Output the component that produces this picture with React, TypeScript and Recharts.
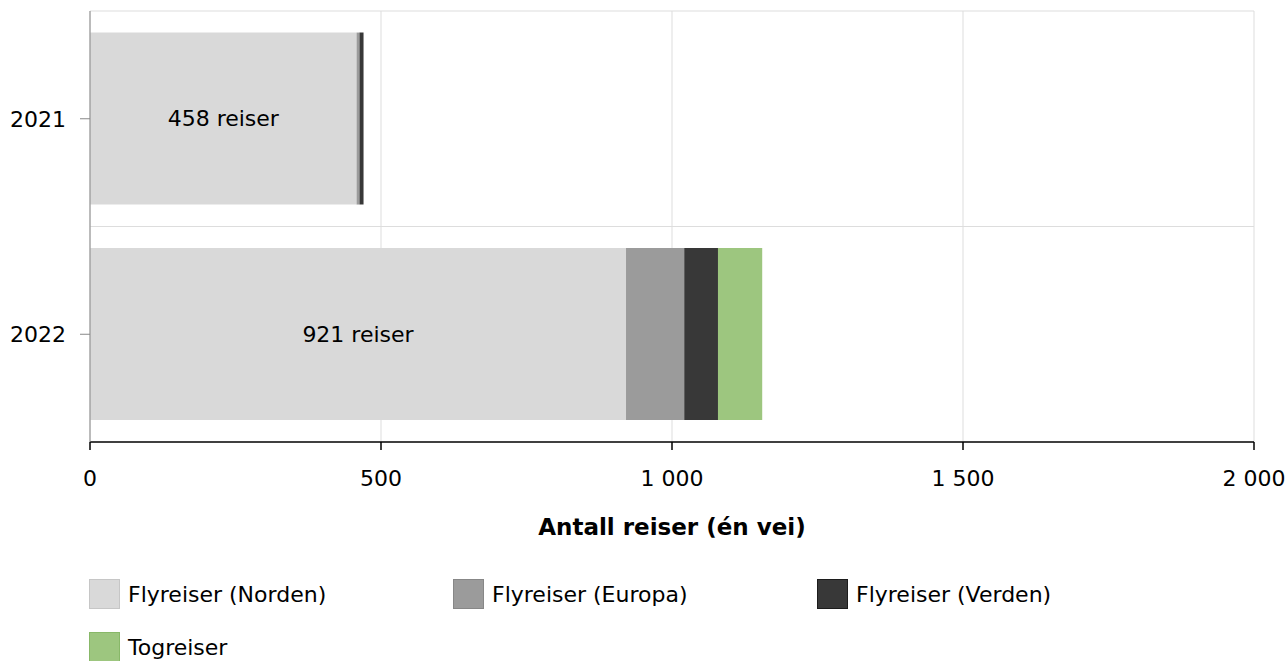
import React from "react";
import { BarChart, Bar, XAxis, YAxis, CartesianGrid, LabelList } from "recharts";

const YEARS = ["2021", "2022"];
const NORDEN = [458, 921];
const EUROPA = [5, 100];
const VERDEN = [7, 58];
const TOG = [0, 76];
const X_TICKS = [0, 500, 1000, 1500, 2000];

const SERIES = [
  { key: "norden", name: "Flyreiser (Norden)", color: "#d9d9d9", border: "#c6c6c6" },
  { key: "europa", name: "Flyreiser (Europa)", color: "#9b9b9b", border: "#878787" },
  { key: "verden", name: "Flyreiser (Verden)", color: "#383838", border: "#1c1c1c" },
  { key: "tog", name: "Togreiser", color: "#9dc67f", border: "#88b868" },
];

const data = YEARS.map((year, i) => ({
  year,
  norden: NORDEN[i],
  europa: EUROPA[i],
  verden: VERDEN[i],
  tog: TOG[i],
}));

const FONT = "'DejaVu Sans', Verdana, sans-serif";

// 1000 -> "1 000"
const fmt = (v: number) => String(v).replace(/\B(?=(\d{3})+(?!\d))/g, " ");

const App: React.FC = () => {
  return (
    <div style={{ position: "absolute", left: 0, top: 0, width: 1288, height: 661, fontFamily: FONT, background: "#fff" }}>
      <BarChart
        width={1288}
        height={661}
        data={data}
        layout="vertical"
        barCategoryGap="10%"
        margin={{ top: 11, right: 34, bottom: 0, left: 0 }}
        style={{ fontFamily: FONT }}
      >
        <CartesianGrid
          stroke="#dddddd"
          horizontalCoordinatesGenerator={({ offset }: any) => [offset.top, offset.top + offset.height / 2]}
        />
        <XAxis
          type="number"
          domain={[0, 2000]}
          ticks={X_TICKS}
          tickFormatter={fmt}
          height={219}
          tickSize={8}
          tickMargin={20}
          stroke="#000"
          strokeWidth={1.5}
          tick={{ fill: "#000", fontSize: 22 }}
          interval={0}
          label={{
            value: "Antall reiser (én vei)",
            position: "insideTop",
            offset: 77,
            fill: "#000",
            fontSize: 23,
            fontWeight: "bold",
          }}
        />
        <YAxis
          type="category"
          dataKey="year"
          width={90}
          tickSize={10}
          tickMargin={14}
          stroke="#888"
          tick={{ fill: "#000", fontSize: 22 }}
        />
        {SERIES.map((s) => (
          <Bar key={s.key} dataKey={s.key} name={s.name} stackId="a" fill={s.color} isAnimationActive={false}>
            {s.key === "norden" && (
              <LabelList
                dataKey="norden"
                position="center"
                formatter={(v: any) => `${v} reiser`}
                fill="#000"
                fontSize={22}
              />
            )}
          </Bar>
        ))}
      </BarChart>
      <div style={{ position: "absolute", left: 89, top: 579, width: 1100, display: "flex", flexWrap: "wrap", rowGap: 23 }}>
        {SERIES.map((s) => (
          <div key={s.key} style={{ width: 364, height: 30, display: "flex", alignItems: "center" }}>
            <span
              style={{
                width: 31,
                height: 30,
                boxSizing: "border-box",
                background: s.color,
                border: `1px solid ${s.border}`,
                marginRight: 8,
                flex: "none",
              }}
            />
            <span style={{ fontSize: 22, color: "#000" }}>{s.name}</span>
          </div>
        ))}
      </div>
    </div>
  );
};

export default App;
